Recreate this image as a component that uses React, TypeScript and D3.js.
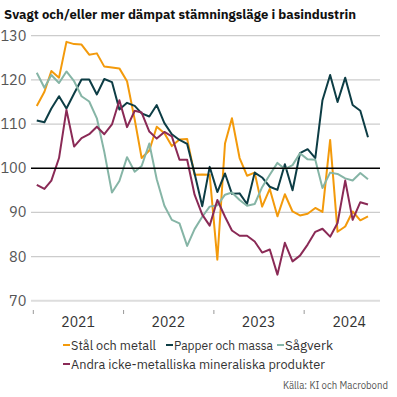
import React from "react";
import * as d3 from "d3";

const title = "Svagt och/eller mer dämpat stämningsläge i basindustrin";
const source = "Källa: KI och Macrobond";
const startYear = 2021;
const startMonth = 0;
const yTicks = [70, 80, 90, 100, 110, 120, 130];
const yearTicks = [2021, 2022, 2023, 2024];
const seriesNames = ["Stål och metall", "Papper och massa", "Sågverk", "Andra icke-metalliska mineraliska produkter"];
const seriesColors = ["#F39A0B", "#0D3D45", "#86B5A6", "#8A2A56"];

const stal = [114.1, 117.3, 122.0, 120.5, 128.6, 128.1, 128.0, 125.7, 126.0, 123.0, 122.8, 122.6, 119.7, 111.0, 102.3, 104.0, 109.4, 107.9, 105.0, 106.5, 106.6, 98.5, 98.6, 98.5, 79.3, 105.6, 111.3, 102.3, 98.3, 99.0, 91.3, 95.3, 89.1, 94.1, 90.2, 89.3, 89.7, 91.0, 90.1, 106.4, 85.6, 86.8, 90.2, 88.2, 89.1];
const papper = [110.8, 110.4, 113.5, 116.3, 113.5, 116.9, 120.1, 120.1, 116.7, 120.2, 119.5, 113.3, 114.8, 114.1, 112.4, 111.7, 114.3, 110.2, 107.7, 106.4, 105.5, 98.8, 91.4, 100.3, 94.6, 98.8, 94.2, 94.3, 91.9, 99.0, 97.9, 95.8, 95.1, 100.9, 95.0, 103.4, 104.3, 102.3, 115.4, 121.1, 115.0, 120.5, 114.3, 113.0, 107.0];
const sagverk = [121.6, 118.2, 121.1, 119.3, 121.9, 119.7, 116.3, 115.1, 111.3, 103.7, 94.5, 97.1, 102.5, 99.2, 100.5, 105.6, 97.5, 91.5, 88.3, 87.5, 82.4, 86.2, 89.0, 91.3, 91.6, 94.0, 94.5, 92.8, 91.5, 91.9, 95.7, 98.5, 101.2, 99.8, 100.7, 103.4, 102.0, 101.9, 95.5, 99.0, 98.7, 97.7, 97.2, 98.9, 97.5];
const andra = [96.2, 95.3, 97.2, 102.3, 113.2, 104.9, 106.8, 107.7, 109.4, 107.7, 109.9, 115.4, 109.3, 113.0, 112.6, 108.3, 106.7, 108.2, 107.2, 101.9, 101.9, 94.0, 89.5, 87.0, 92.8, 89.0, 85.9, 84.7, 84.7, 83.4, 80.9, 81.6, 75.9, 83.1, 78.9, 80.2, 82.7, 85.6, 86.3, 84.5, 87.6, 97.2, 88.3, 92.3, 91.8];

const allSeries = [stal, papper, sagverk, andra];

export default function App() {
  const W = 397, H = 397;
  const x = d3.scaleTime()
    .domain([new Date(2021, 0, 1), new Date(2025, 0, 1)])
    .range([33.3, 394.7]);
  const y = d3.scaleLinear().domain([70, 130]).range([300.7, 35.7]);
  const plotLeft = 31, plotRight = 380;
  const dateOf = (i: number) => new Date(startYear, startMonth + i, 15);
  const line = d3.line<number>()
    .x((_, i) => x(dateOf(i)))
    .y((v) => y(v))
    .curve(d3.curveLinear);
  const font = "'IBM Plex Sans', 'Noto Sans', Roboto, sans-serif";

  const legendRow1 = [0, 1, 2];
  const legendX1 = [63, 166, 277];
  const legendW1 = [85, 99, 48];

  return (
    <svg width={W} height={H} style={{ position: "absolute", left: 0, top: 0, background: "#fff" }}>
      <text x={4} y={19} fontFamily={font} fontWeight={700} fontSize={13.5} fill="#111"
        textLength={352} lengthAdjust="spacingAndGlyphs">{title}</text>
      {yTicks.map((t) => (
        <g key={t}>
          {t !== 100 && t !== 70 && (
            <line x1={plotLeft} x2={plotRight} y1={y(t)} y2={y(t)} stroke="#cccccc" strokeWidth={1.2} />
          )}
          <text x={26.5} y={y(t) + 5} textAnchor="end" fontFamily={font} fontSize={14.5} fill="#555">{t}</text>
        </g>
      ))}
      <line x1={plotLeft} x2={plotRight} y1={y(70)} y2={y(70)} stroke="#dddddd" strokeWidth={2} />
      {yearTicks.map((yr) => {
        const xs = x(new Date(yr, 0, 1));
        const xm = x(new Date(yr, 6, 1));
        return (
          <g key={yr}>
            <line x1={xs} x2={xs} y1={310} y2={314} stroke="#999" strokeWidth={1} />
            <text x={xm} y={327} textAnchor="middle" fontFamily={font} fontSize={14} fill="#333">{yr}</text>
          </g>
        );
      })}
      {allSeries.map((s, k) => (
        <path key={k} d={line(s) || ""} fill="none" stroke={seriesColors[k]} strokeWidth={2} strokeLinejoin="round" />
      ))}
      <line x1={plotLeft} x2={plotRight} y1={y(100)} y2={y(100)} stroke="#000" strokeWidth={1.6} />
      {legendRow1.map((k, j) => (
        <g key={k}>
          <rect x={legendX1[j]} y={344} width={7} height={2} fill={seriesColors[k]} />
          <text x={legendX1[j] + 8} y={350} fontFamily={font} fontSize={13} fill="#333"
            textLength={legendW1[j]} lengthAdjust="spacingAndGlyphs">{seriesNames[k]}</text>
        </g>
      ))}
      <rect x={63} y={363} width={7} height={2} fill={seriesColors[3]} />
      <text x={71} y={369} fontFamily={font} fontSize={13} fill="#333"
        textLength={254} lengthAdjust="spacingAndGlyphs">{seriesNames[3]}</text>
      <text x={388} y={389} textAnchor="end" fontFamily={font} fontSize={10.5} fill="#555"
        textLength={105} lengthAdjust="spacingAndGlyphs">{source}</text>
    </svg>
  );
}
